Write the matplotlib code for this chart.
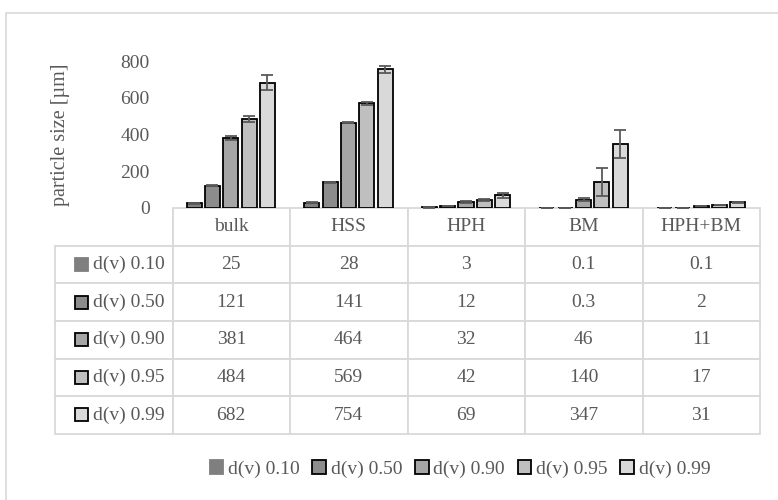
import matplotlib.pyplot as plt
from matplotlib.patches import Rectangle
import numpy as np

# data
categories = ["bulk", "HSS", "HPH", "BM", "HPH+BM"]
series = ["d(v) 0.10", "d(v) 0.50", "d(v) 0.90", "d(v) 0.95", "d(v) 0.99"]
d10 = [25, 28, 3, 0.1, 0.1]
d50 = [121, 141, 12, 0.3, 2]
d90 = [381, 464, 32, 46, 11]
d95 = [484, 569, 42, 140, 17]
d99 = [682, 754, 69, 347, 31]
err10 = [2, 2, 0.5, 0.05, 0.05]
err50 = [3, 3, 1, 0.1, 0.5]
err90 = [11, 4, 5, 8, 1]
err95 = [17, 7, 6, 75, 2]
err99 = [40, 18, 13, 76, 3]
colors = ["#7f7f7f", "#8c8c8c", "#a5a5a5", "#bfbfbf", "#d9d9d9"]

values = [d10, d50, d90, d95, d99]
errors = [err10, err50, err90, err95, err99]
txt = "#595959"
fs = 14

plt.rcParams['font.family'] = ['Liberation Serif', 'DejaVu Serif']

fig = plt.figure(figsize=(7.78, 5.0), dpi=100)
# chart border
fig.patches.append(Rectangle((6/778, -0.1), 1.0, 1 - 13/500 + 0.1, transform=fig.transFigure,
                             fill=False, edgecolor="#d9d9d9", linewidth=1.2))

ax = fig.add_axes([172/778, 292/500, 588/778, 147/500])
x = np.arange(len(categories))
width = 0.128
step = 0.156
for i, (vals, errs, c, name) in enumerate(zip(values, errors, colors, series)):
    ax.bar(x + (i - 2) * step, vals, width, color=c, edgecolor="black", linewidth=1.3,
           yerr=errs, capsize=4, error_kw=dict(ecolor="#595959", elinewidth=1.3, capthick=1.3),
           label=name)

ax.set_xlim(-0.5, len(categories) - 0.5)
ax.set_ylim(0, 800)
ax.set_yticks([0, 200, 400, 600, 800])
ax.tick_params(axis='y', length=0, labelsize=fs, labelcolor=txt, pad=16)
ax.set_xticks([])
for s in ax.spines.values():
    s.set_visible(False)
ax.set_ylabel("particle size [µm]", fontsize=fs + 0.5, color=txt, labelpad=36)

# data table, first column holds the series names
cell_text = [[name] + [("%g" % v) for v in vals] for name, vals in zip(series, values)]
tab = ax.table(cellText=cell_text, colLabels=[""] + categories, cellLoc='center',
               bbox=[(55 - 172) / 588, -226 / 147, 705 / 588, 226 / 147])
tab.auto_set_font_size(False)
for (r, c), cell in tab.get_celld().items():
    cell.set_edgecolor("#d9d9d9")
    cell.set_linewidth(1.3)
    cell.get_text().set_color(txt)
    cell.get_text().set_fontsize(fs)
    if c == 0:
        cell.get_text().set_horizontalalignment('right')
        cell.PAD = 0.07
        if r == 0:
            cell.visible_edges = 'BR'

# legend keys in the first column
for i, c in enumerate(colors):
    yc = -(37.6 * (i + 1) + 18.8) / 147
    ax.add_patch(Rectangle(((75 - 172) / 588, yc - 6.5 / 147), 13 / 588, 13 / 147,
                           transform=ax.transAxes, clip_on=False, facecolor=c,
                           edgecolor="black" if i > 0 else c, linewidth=1.3))

leg = fig.legend(loc='center', bbox_to_anchor=(460 / 778, 1 - 469 / 500), ncol=5, frameon=False,
                 fontsize=fs, labelcolor=txt, handlelength=0.7, handleheight=0.7,
                 handletextpad=0.25, columnspacing=0.65)
leg.legend_handles[0].set_edgecolor(colors[0])

fig.savefig("out.png", dpi=100)
